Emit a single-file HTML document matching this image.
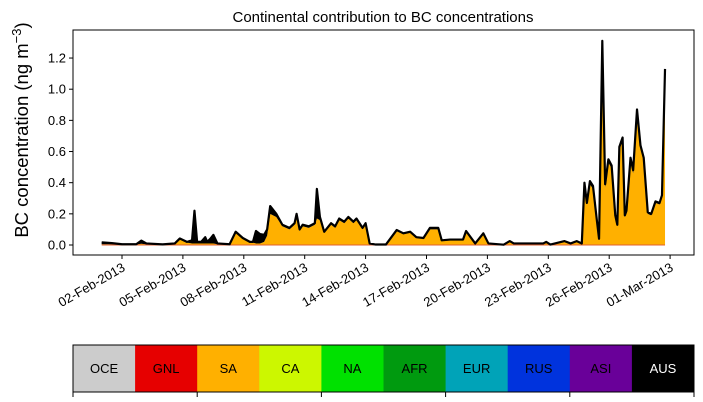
<!DOCTYPE html>
<html><head><meta charset="utf-8"><style>
body{margin:0;background:#fff;}
svg{display:block;font-family:"Liberation Sans","DejaVu Sans",sans-serif;}
</style></head><body>
<svg id="chart" width="703" height="402" viewBox="0 0 703 402" xmlns="http://www.w3.org/2000/svg">
<text x="383" y="22" font-size="15" text-anchor="middle">Continental contribution to BC concentrations</text>
<text transform="translate(28,130) rotate(-90)" font-size="18.5" text-anchor="middle">BC concentration (ng m<tspan dy="-7" font-size="13">−3</tspan><tspan dy="7">)</tspan></text>
<g id="plot"></g>
<g id="cbar"></g>
</svg>
<script>
// days since 01-Feb-2013 00:00
const times = [0,0.5,1.0,1.7,1.95,2.2,3.0,3.4,3.6,3.85,4.2,4.45,4.57,4.7,4.9,5.1,5.2,5.35,5.5,5.7,6.3,6.6,6.95,7.3,7.45,7.6,7.8,8.0,8.15,8.3,8.6,8.9,9.25,9.5,9.6,9.75,9.9,10.2,10.5,10.6,10.75,10.96,11.3,11.5,11.7,11.95,12.15,12.4,12.55,12.85,13.0,13.2,13.5,14.0,14.53,14.86,15.2,15.5,15.85,16.17,16.58,16.75,17.16,17.8,17.95,18.4,18.8,19.05,19.8,20.1,20.3,21.75,21.9,22.1,22.8,23.1,23.4,23.65,23.78,23.9,24.05,24.2,24.4,24.5,24.66,24.8,24.96,25.12,25.3,25.4,25.5,25.66,25.77,25.85,26.05,26.18,26.37,26.54,26.7,26.9,27.07,27.28,27.48,27.6,27.75];
const totalVals = [0.017,0.012,0.005,0.005,0.028,0.01,0.004,0.008,0.01,0.042,0.02,0.03,0.22,0.02,0.02,0.05,0.02,0.04,0.065,0.01,0.005,0.085,0.045,0.02,0.02,0.09,0.07,0.065,0.1,0.25,0.2,0.13,0.11,0.14,0.2,0.1,0.13,0.12,0.14,0.36,0.18,0.085,0.14,0.12,0.17,0.15,0.18,0.15,0.17,0.11,0.14,0.01,0.003,0.003,0.096,0.075,0.085,0.05,0.045,0.11,0.11,0.03,0.035,0.035,0.09,0.01,0.075,0.01,0.002,0.025,0.01,0.01,0.02,0.003,0.025,0.01,0.025,0.01,0.4,0.27,0.41,0.38,0.15,0.04,1.31,0.39,0.55,0.51,0.19,0.13,0.63,0.69,0.19,0.22,0.56,0.48,0.87,0.64,0.56,0.21,0.2,0.28,0.27,0.32,1.13];
const saVals = [0.005,0.005,0.003,0.003,0.008,0.004,0.003,0.005,0.008,0.038,0.015,0.01,0.01,0.01,0.01,0.01,0.01,0.01,0.01,0.005,0.004,0.08,0.04,0.015,0.015,0.01,0.01,0.02,0.06,0.2,0.18,0.12,0.1,0.13,0.19,0.09,0.12,0.11,0.13,0.17,0.16,0.08,0.13,0.11,0.16,0.14,0.17,0.14,0.16,0.1,0.13,0.008,0.002,0.002,0.09,0.07,0.08,0.045,0.04,0.1,0.1,0.025,0.03,0.03,0.085,0.008,0.065,0.008,0.001,0.02,0.008,0.008,0.015,0.002,0.02,0.008,0.02,0.008,0.38,0.26,0.39,0.36,0.14,0.035,1.27,0.37,0.53,0.49,0.18,0.12,0.61,0.67,0.18,0.21,0.54,0.46,0.85,0.62,0.54,0.2,0.19,0.27,0.26,0.31,1.1];
const yTicks = [0,0.2,0.4,0.6,0.8,1.0,1.2];
const yTickLabels = ["0.0","0.2","0.4","0.6","0.8","1.0","1.2"];
const xTickDays = [1,4,7,10,13,16,19,22,25,28];
const xTickLabels = ["02-Feb-2013","05-Feb-2013","08-Feb-2013","11-Feb-2013","14-Feb-2013","17-Feb-2013","20-Feb-2013","23-Feb-2013","26-Feb-2013","01-Mar-2013"];
const regions = ["OCE","GNL","SA","CA","NA","AFR","EUR","RUS","ASI","AUS"];
const regionColors = ["#cccccc","#e60000","#ffb000","#ccf700","#00e100","#009a0f","#00a3b8","#0033dd","#690099","#000000"];

const NS="http://www.w3.org/2000/svg";
const L=73,R=694,T=30,B=255;
const xs=d=>101.7+d*20.3;
const ys=v=>245-v*155.8;
function mk(tag,attrs,parent){const e=document.createElementNS(NS,tag);for(const k in attrs)e.setAttribute(k,attrs[k]);parent.appendChild(e);return e;}
const plot=document.getElementById('plot');

let saPath=`M${xs(times[0])},${ys(0)}`;
times.forEach((t,i)=>{saPath+=` L${xs(t)},${ys(saVals[i])}`;});
saPath+=` L${xs(times[times.length-1])},${ys(0)} Z`;
const sa=mk('path',{d:saPath,fill:'#ffb000'},plot);



let topPath='',botPath='';
times.forEach((t,i)=>{topPath+=(i?' L':'M')+xs(t)+','+ys(totalVals[i]);});
for(let i=times.length-1;i>=0;i--){botPath+=' L'+xs(times[i])+','+ys(saVals[i]);}
const aus=mk('path',{d:topPath+botPath+' Z',fill:'#000'},plot);



const base=mk('line',{x1:xs(times[0]),x2:xs(times[times.length-1]),y1:ys(0),y2:ys(0),stroke:'#e06030','stroke-width':1},plot);



const tl=mk('path',{d:topPath,fill:'none',stroke:'#000','stroke-width':2.2,'stroke-linejoin':'round'},plot);



const frame=mk('rect',{x:L,y:T,width:R-L,height:B-T,fill:'none',stroke:'#000','stroke-width':1},plot);



yTicks.forEach((v,i)=>{
  const y=ys(v);
  const tk=mk('line',{x1:L-4,x2:L,y1:y,y2:y,stroke:'#000'},plot);
  
  
  const tx=mk('text',{x:L-7,y:y+4.5,'font-size':13,'text-anchor':'end'},plot);
  tx.textContent=yTickLabels[i];
  
  
});
xTickDays.forEach((d,i)=>{
  const x=xs(d);
  const tk=mk('line',{x1:x,x2:x,y1:B,y2:B+4,stroke:'#000'},plot);
  
  
  const tx=mk('text',{transform:`translate(${x+4},${B+15}) rotate(-30)`,'font-size':13,'text-anchor':'end'},plot);
  tx.textContent=xTickLabels[i];
  
  
});

const cb=document.getElementById('cbar');
const cw=(R-L)/regions.length;
regions.forEach((r,i)=>{
  const rc=mk('rect',{x:L+i*cw,y:345,width:cw+0.5,height:47,fill:regionColors[i]},cb);
  
  
  const tx=mk('text',{x:L+i*cw+cw/2,y:373,'font-size':13,'text-anchor':'middle',fill:r==='AUS'?'#fff':'#000'},cb);
  tx.textContent=r;
  
  
});
const cf=mk('rect',{x:L,y:345,width:R-L,height:47,fill:'none',stroke:'#000','stroke-width':1},cb);


for(let i=0;i<=regions.length;i+=2){
  const t=mk('line',{x1:L+i*cw,x2:L+i*cw,y1:392,y2:397,stroke:'#000'},cb);
  
  
}
</script>
</body></html>
